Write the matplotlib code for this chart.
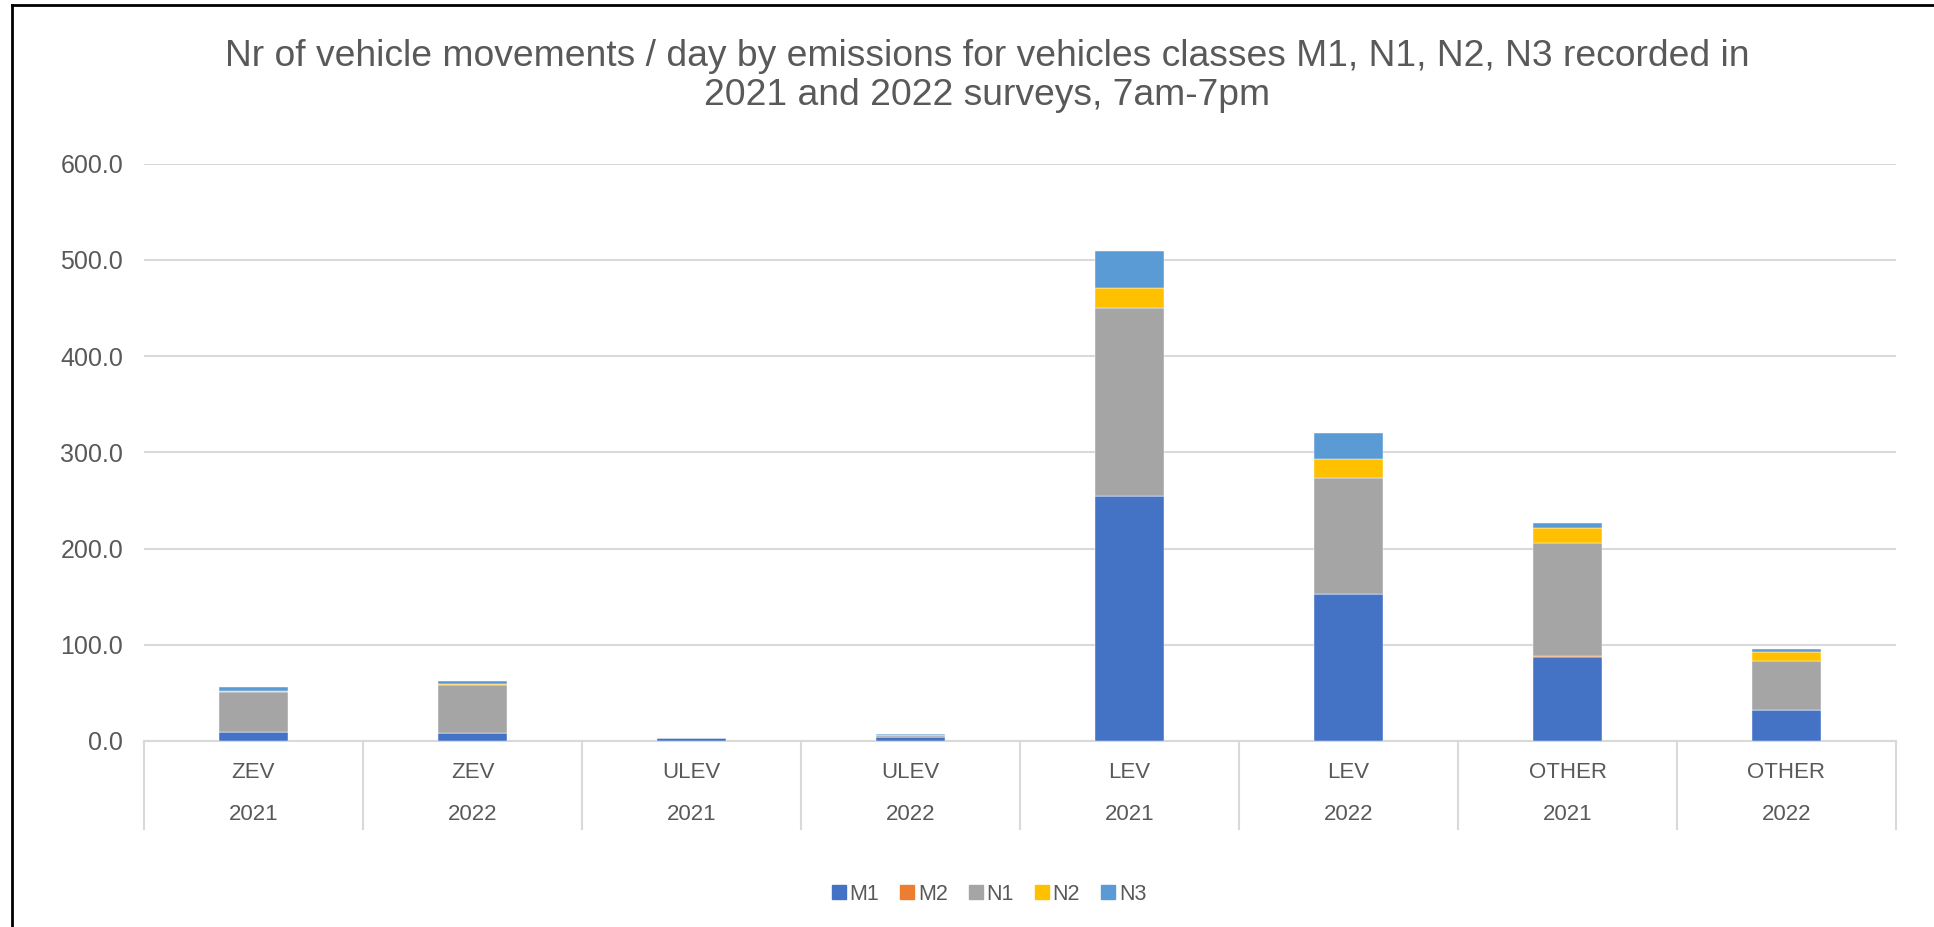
import matplotlib
matplotlib.use("Agg")
import matplotlib.pyplot as plt
from matplotlib.lines import Line2D
import numpy as np

plt.rcParams["font.family"] = ["Liberation Sans", "DejaVu Sans"]

# ---------------------------------------------------------------------------
# Data
# ---------------------------------------------------------------------------
categories = ["ZEV", "ZEV", "ULEV", "ULEV", "LEV", "LEV", "OTHER", "OTHER"]
years = ["2021", "2022", "2021", "2022", "2021", "2022", "2021", "2022"]

m1 = [9.4, 8.0, 3.0, 4.5, 255.0, 153.0, 87.5, 32.5]
m2 = [0.0, 0.0, 0.0, 0.0, 0.0, 0.0, 0.8, 0.0]
n1 = [42.0, 50.5, 0.0, 1.8, 195.0, 120.5, 117.5, 51.0]
n2 = [0.3, 0.7, 0.0, 0.2, 20.5, 19.5, 15.3, 9.4]
n3 = [4.5, 3.0, 0.3, 0.8, 38.5, 27.5, 5.2, 2.5]

series_names = ["M1", "M2", "N1", "N2", "N3"]
series_colors = ["#4472C4", "#ED7D31", "#A5A5A5", "#FFC000", "#5B9BD5"]

title = ("Nr of vehicle movements / day by emissions for vehicles classes M1, N1, N2, N3 recorded in\n"
         "2021 and 2022 surveys, 7am-7pm")

text_col = "#595959"
grid_col = "#D9D9D9"

# ---------------------------------------------------------------------------
# Figure
# ---------------------------------------------------------------------------
W, H = 1934, 927
fig = plt.figure(figsize=(W / 100, H / 100), dpi=100)
ax = fig.add_axes([144 / W, 1 - 741 / H, (1896 - 144) / W, (741 - 163.5) / H])

x = np.arange(len(categories))
bottom = np.zeros(len(categories))
for name, vals, col in zip(series_names, [m1, m2, n1, n2, n3], series_colors):
    vals = np.array(vals)
    ax.bar(x, vals, width=0.313, bottom=bottom, color=col, label=name,
           edgecolor="white", linewidth=0.3, zorder=3)
    bottom += vals

ax.set_xlim(-0.5, len(categories) - 0.5)
ax.set_ylim(0, 600)
ax.set_yticks(np.arange(0, 601, 100))
ax.set_yticklabels([f"{v:.1f}" for v in np.arange(0, 601, 100)])
ax.tick_params(axis="y", length=0, pad=15, labelsize=18, labelcolor=text_col)
ax.set_xticks([])
ax.grid(axis="y", color=grid_col, linewidth=1.5, zorder=0)
for s in ["left", "right", "top"]:
    ax.spines[s].set_visible(False)
ax.spines["bottom"].set_color(grid_col)
ax.spines["bottom"].set_linewidth(1.5)

# two-level category axis
xt = ax.get_xaxis_transform()
ax_h = 741 - 163.5
for b in np.arange(-0.5, len(categories), 1.0):
    ax.plot([b, b], [0, -(829 - 741) / ax_h], transform=xt, color=grid_col,
            lw=1.5, clip_on=False)
for i, (c, y) in enumerate(zip(categories, years)):
    ax.text(i, -(772 - 741) / ax_h, c, transform=xt, ha="center",
            va="center", fontsize=16, color=text_col)
    ax.text(i, -(814 - 741) / ax_h, y, transform=xt, ha="center",
            va="center", fontsize=16, color=text_col)

fig.text(987 / W, 1 - 76 / H, title, ha="center", va="center", fontsize=26.8,
         color=text_col, linespacing=1.12)

handles = [Line2D([0], [0], marker="s", linestyle="none", markersize=10,
                  markerfacecolor=c, markeredgecolor=c) for c in series_colors]
fig.legend(handles, series_names, loc="center", bbox_to_anchor=(987 / W, 1 - 894 / H),
           ncol=5, frameon=False, fontsize=15.5, labelcolor=text_col,
           handletextpad=0.0, columnspacing=0.8, handlelength=1.0)

# chart border (left and top edges visible)
fig.add_artist(Line2D([12 / W, 12 / W], [0, 1 - 5 / H], color="black", lw=2,
                      transform=fig.transFigure))
fig.add_artist(Line2D([12 / W, 1], [1 - 5 / H, 1 - 5 / H], color="black", lw=2,
                      transform=fig.transFigure))

fig.savefig("out.png", dpi=100)
